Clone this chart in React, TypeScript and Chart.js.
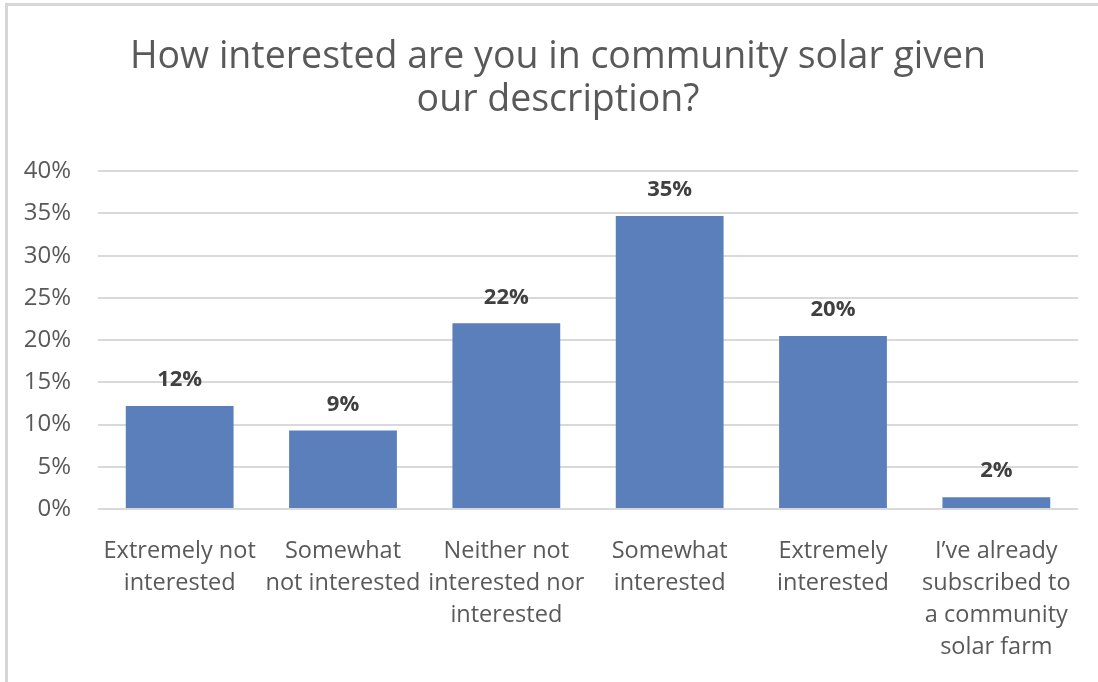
import React, { useEffect, useRef } from "react";
import { Chart, registerables } from "chart.js";

Chart.register(...registerables);

const titleLines = ["How interested are you in community solar given", "our description?"];
const categories: string[][] = [
  ["Extremely not", "interested"],
  ["Somewhat", "not interested"],
  ["Neither not", "interested nor", "interested"],
  ["Somewhat", "interested"],
  ["Extremely", "interested"],
  ["I\u2019ve already", "subscribed to", "a community", "solar farm"],
];
const values = [12.2, 9.3, 22.0, 34.7, 20.5, 1.4];
const valueLabels = ["12%", "9%", "22%", "35%", "20%", "2%"];
const yTicks = [0, 5, 10, 15, 20, 25, 30, 35, 40];

const FONT = "'Open Sans', 'Noto Sans', sans-serif";
const TEXT = "#595959";

const dataLabelPlugin = {
  id: "dataLabels",
  afterDatasetsDraw(chart: any) {
    const ctx = chart.ctx;
    const meta = chart.getDatasetMeta(0);
    ctx.save();
    ctx.font = `bold 22px ${FONT}`;
    ctx.fillStyle = "#404040";
    ctx.textAlign = "center";
    ctx.textBaseline = "middle";
    meta.data.forEach((bar: any, i: number) => {
      ctx.fillText(valueLabels[i], bar.x, bar.y - 26);
    });
    ctx.restore();
  },
};

export default function App() {
  const ref = useRef<HTMLCanvasElement>(null);
  useEffect(() => {
    document.body.style.margin = "0";
    const chart = new Chart(ref.current!, {
      type: "bar",
      data: {
        labels: categories,
        datasets: [
          {
            data: values,
            backgroundColor: "#5B7FBB",
            borderWidth: 0,
            barPercentage: 0.66,
            categoryPercentage: 1,
          },
        ],
      },
      options: {
        animation: false,
        responsive: false,
        layout: { padding: { left: 18, right: 0, top: 0, bottom: 0 } },
        plugins: {
          legend: { display: false },
          tooltip: { enabled: false },
          title: {
            display: true,
            text: titleLines,
            color: TEXT,
            font: { family: FONT, size: 37.5, weight: "normal", lineHeight: 1.15 },
            padding: { top: 36, bottom: 49 },
          },
        },
        scales: {
          x: {
            grid: { display: false },
            border: { display: false },
            ticks: {
              color: TEXT,
              font: { family: FONT, size: 23.5, lineHeight: 1.36 },
              maxRotation: 0,
              autoSkip: false,
              padding: 18,
            },
            afterFit(scale: any) {
              scale.height = 173;
            },
          },
          y: {
            min: 0,
            max: 40,
            afterBuildTicks(scale: any) {
              scale.ticks = yTicks.map((v) => ({ value: v }));
            },
            grid: { color: "#d9d9d9", lineWidth: 2, drawTicks: false },
            border: { display: false },
            ticks: {
              color: TEXT,
              font: { family: FONT, size: 24 },
              padding: 27,
              callback: (v: any) => `${v}%`,
            },
            afterFit(scale: any) {
              scale.width = 80;
            },
          },
          yRight: {
            position: "right",
            min: 0,
            max: 40,
            grid: { display: false },
            border: { display: false },
            ticks: { display: false },
            afterFit(scale: any) {
              scale.width = 20;
            },
          },
        },
      },
      plugins: [dataLabelPlugin],
    });
    return () => chart.destroy();
  }, []);

  return (
    <div style={{ position: "fixed", left: 0, top: 0, width: 1098, height: 682, background: "#fff", overflow: "hidden" }}>
      <div
        style={{
          position: "absolute",
          left: 5,
          top: 3,
          width: 1200,
          height: 800,
          borderLeft: "3px solid #d6d6d6",
          borderTop: "3px solid #d6d6d6",
        }}
      />
      <canvas ref={ref} width={1098} height={682} style={{ position: "absolute", left: 0, top: 0 }} />
    </div>
  );
}
